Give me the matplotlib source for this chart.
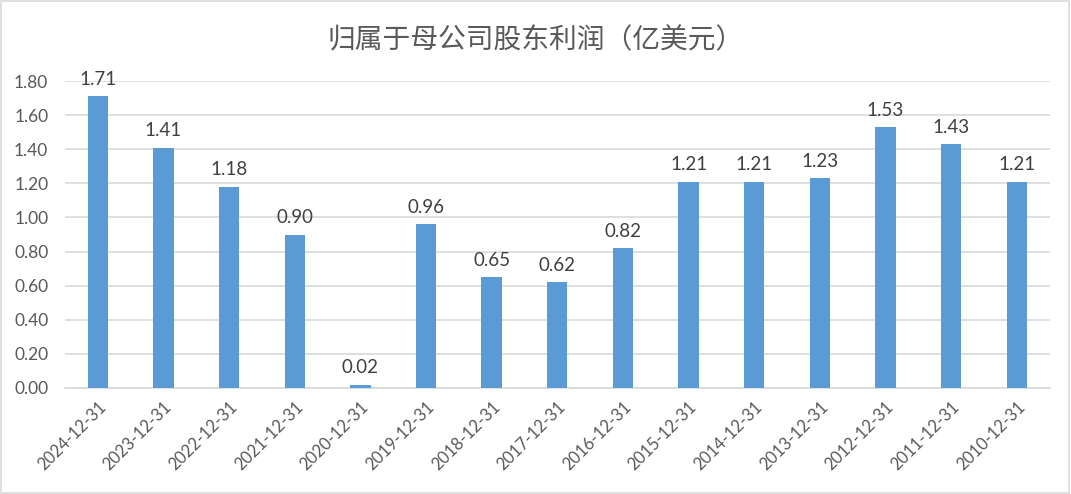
import matplotlib
matplotlib.use('Agg')
import matplotlib.pyplot as plt
from matplotlib.patches import Rectangle

plt.rcParams['font.family'] = ['Lato', 'Noto Sans CJK SC', 'DejaVu Sans']

dates = ['2024-12-31', '2023-12-31', '2022-12-31', '2021-12-31', '2020-12-31',
         '2019-12-31', '2018-12-31', '2017-12-31', '2016-12-31', '2015-12-31',
         '2014-12-31', '2013-12-31', '2012-12-31', '2011-12-31', '2010-12-31']
profit = [1.71, 1.41, 1.18, 0.90, 0.02, 0.96, 0.65, 0.62, 0.82, 1.21,
          1.21, 1.23, 1.53, 1.43, 1.21]
yticks = [0.0, 0.2, 0.4, 0.6, 0.8, 1.0, 1.2, 1.4, 1.6, 1.8]

text_color = '#595959'
bar_color = '#5B9BD5'

fig = plt.figure(figsize=(10.71, 4.94), dpi=100)
ax = fig.add_axes([0.0607, 0.2146, 0.9193, 0.6214])

x = range(len(dates))
ax.bar(x, profit, width=0.31, color=bar_color, zorder=3)
for i, v in zip(x, profit):
    ax.text(i, v + 0.05, f'{v:.2f}', ha='center', va='bottom',
            fontsize=13.5, color='#404040')

ax.set_xlim(-0.5, len(dates) - 0.5)
ax.set_ylim(0, 1.8)
ax.set_yticks(yticks)
ax.set_yticklabels([f'{t:.2f}' for t in yticks], fontsize=12.5, color=text_color)
ax.set_xticks(list(x))
ax.set_xticklabels(dates, rotation=45, ha='right', rotation_mode='anchor',
                   fontsize=12, color=text_color)
ax.tick_params(axis='y', length=0, pad=12)
ax.tick_params(axis='x', length=0, pad=8)
ax.yaxis.grid(True, color='#D9D9D9', linewidth=1.2, zorder=0)
for s in ['top', 'right', 'left']:
    ax.spines[s].set_visible(False)
ax.spines['bottom'].set_color('#D9D9D9')
ax.spines['bottom'].set_linewidth(1.2)

fig.text(0.5, 0.918, '归属于母公司股东利润（亿美元）', ha='center', va='center',
         fontsize=20, color=text_color)

fig.patches.append(Rectangle((0.001, 0.002), 0.997, 0.995, transform=fig.transFigure,
                             fill=False, edgecolor='#D9D9D9', linewidth=1.2))

fig.savefig('out.png', dpi=100)
